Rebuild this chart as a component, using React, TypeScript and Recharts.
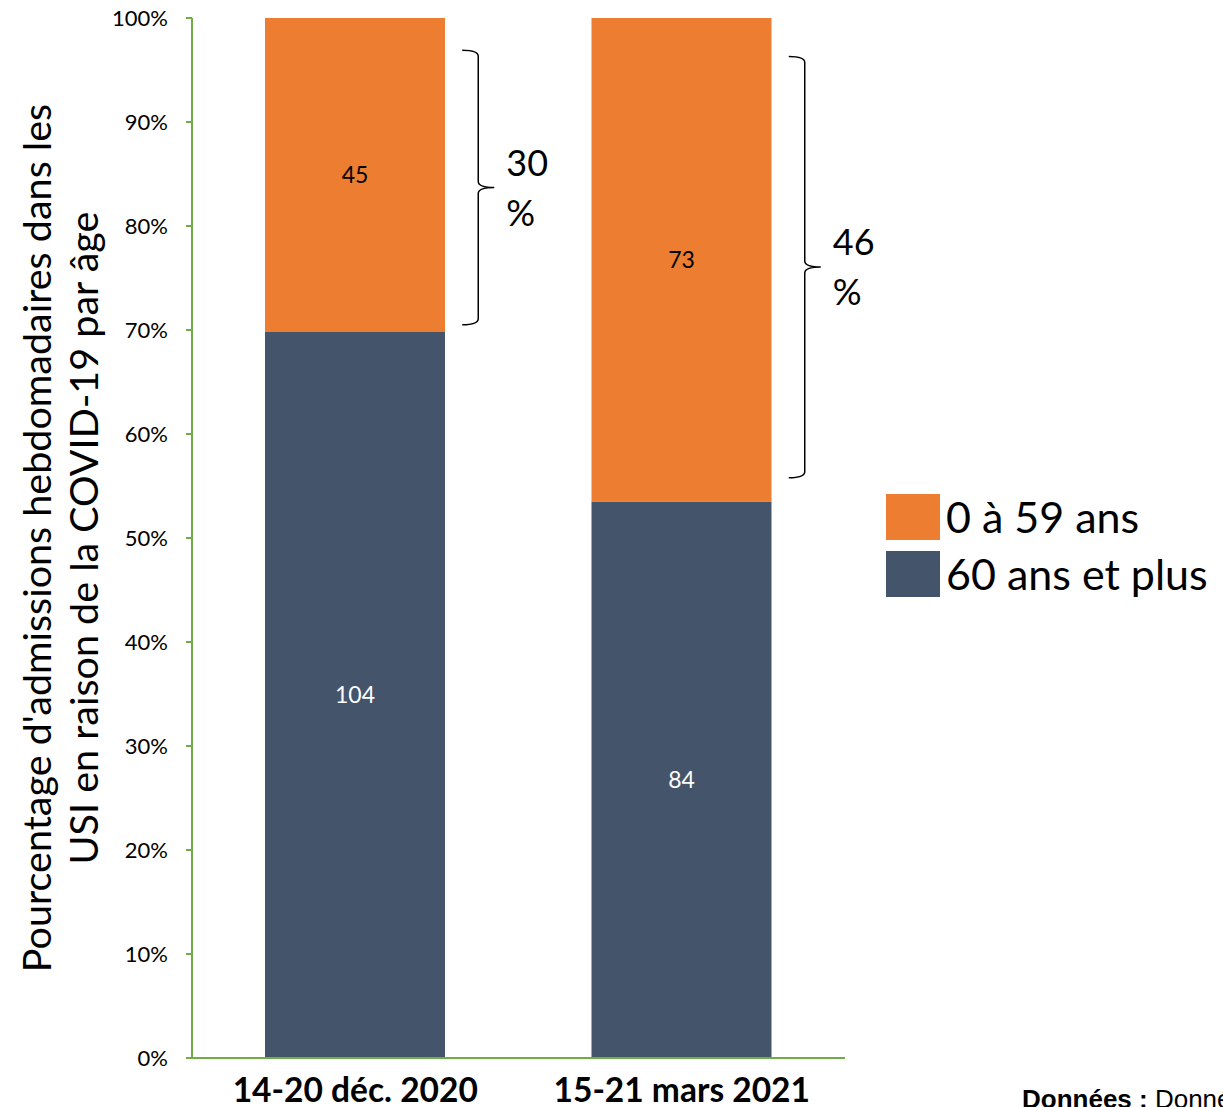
import { BarChart, Bar, XAxis, YAxis, Legend, LabelList, ReferenceArea, Label } from 'recharts'

const periods = ['14-20 déc. 2020', '15-21 mars 2021']
const seniors = [104, 84]
const youngs = [45, 73]
const yTicks = [0, 0.1, 0.2, 0.3, 0.4, 0.5, 0.6, 0.7, 0.8, 0.9, 1]

// brace annotations (share of 0 à 59 ans), in fraction of the stacked bar
const braceFrom = [0.705, 0.558]
const braceTo = [0.969, 0.963]
const braceText = ['30', '46']

const ORANGE = '#ED7D31'
const SLATE = '#44546A'
const GREEN = '#70AD47'
const FONT = 'Lato, "Open Sans", sans-serif'

const data = periods.map((p, i) => ({ period: p, seniors: seniors[i], youngs: youngs[i] }))

function Brace(props: any) {
  const { x, y, width, height, text } = props
  const ax = x + width / 2 + 90 + 17
  const vx = ax + 16
  const tx = vx + 16
  const top = y
  const bottom = y + height
  const mid = y + height / 2
  const d = `M${ax},${top} Q${vx},${top} ${vx},${top + 6} L${vx},${mid - 6} Q${vx},${mid} ${tx},${mid} Q${vx},${mid} ${vx},${mid + 6} L${vx},${bottom - 6} Q${vx},${bottom} ${ax},${bottom}`
  return (
    <g>
      <path d={d} fill="none" stroke="#000" strokeWidth={1.5} />
      <text x={tx + 12} y={mid - 12} fontSize={36} fontFamily={FONT} fill="#000">{text}</text>
      <text x={tx + 12} y={mid + 38} fontSize={36} fontFamily={FONT} fill="#000">%</text>
    </g>
  )
}

function YTitle(props: any) {
  const vb = props.viewBox || {}
  const cy = vb.y + vb.height / 2
  return (
    <g fontFamily={FONT} fontSize={39.5} fill="#000">
      <text x={51} y={cy} textAnchor="middle" transform={`rotate(-90, 51, ${cy})`}>
        Pourcentage d'admissions hebdomadaires dans les
      </text>
      <text x={98} y={cy} textAnchor="middle" transform={`rotate(-90, 98, ${cy})`}>
        USI en raison de la COVID-19 par âge
      </text>
    </g>
  )
}

function LegendBox({ payload }: any) {
  const items = payload || []
  return (
    <div style={{ fontFamily: FONT, fontSize: 43, lineHeight: '57px', color: '#000' }}>
      {items.map((it: any) => (
        <div key={it.value} style={{ display: 'flex', alignItems: 'center', whiteSpace: 'nowrap' }}>
          <span style={{ display: 'inline-block', width: 54, height: 46, background: it.color, marginRight: 6 }} />
          {it.value}
        </div>
      ))}
    </div>
  )
}

export default function App() {
  return (
    <div style={{ position: 'absolute', left: 0, top: 0, width: 1223, height: 1107, overflow: 'hidden', background: '#fff' }}>
      <BarChart width={1223} height={1107} data={data} stackOffset="expand" margin={{ top: 18, right: 378, bottom: 0, left: 0 }}>
        <XAxis
          dataKey="period"
          height={49}
          axisLine={{ stroke: GREEN, strokeWidth: 2 }}
          tickLine={false}
          tickSize={0}
          tickMargin={20}
          tick={{ fill: '#000', fontSize: 33.5, fontWeight: 700, fontFamily: FONT }}
        />
        <YAxis
          width={192}
          domain={[0, 1]}
          ticks={yTicks}
          tickFormatter={(v) => `${Math.round(v * 100)}%`}
          axisLine={{ stroke: GREEN, strokeWidth: 2 }}
          tickLine={{ stroke: GREEN, strokeWidth: 2 }}
          tickSize={6}
          tickMargin={18}
          tick={{ fill: '#000', fontSize: 22, fontFamily: FONT }}
        >
          <Label content={<YTitle />} />
        </YAxis>
        <Legend
          layout="vertical"
          align="center"
          verticalAlign="middle"
          content={<LegendBox />}
          wrapperStyle={{ left: 886, top: 488, width: 340 }}
        />
        <Bar dataKey="seniors" name="60 ans et plus" stackId="a" fill={SLATE} barSize={180} isAnimationActive={false}>
          <LabelList dataKey="seniors" position="center" fill="#fff" fontSize={23} fontFamily={FONT} />
        </Bar>
        <Bar dataKey="youngs" name="0 à 59 ans" stackId="a" fill={ORANGE} barSize={180} isAnimationActive={false}>
          <LabelList dataKey="youngs" position="center" fill="#000" fontSize={23} fontFamily={FONT} />
        </Bar>
        {periods.map((p, i) => (
          <ReferenceArea
            key={p}
            x1={p}
            x2={p}
            y1={braceFrom[i]}
            y2={braceTo[i]}
            shape={(s: any) => <Brace {...s} text={braceText[i]} />}
          />
        ))}
      </BarChart>
      <div style={{ position: 'absolute', left: 1022, top: 1086, fontFamily: '"Liberation Sans", Arial, sans-serif', fontSize: 26, lineHeight: '26px', whiteSpace: 'nowrap' }}>
        <b>Données :</b> Données
      </div>
    </div>
  )
}
